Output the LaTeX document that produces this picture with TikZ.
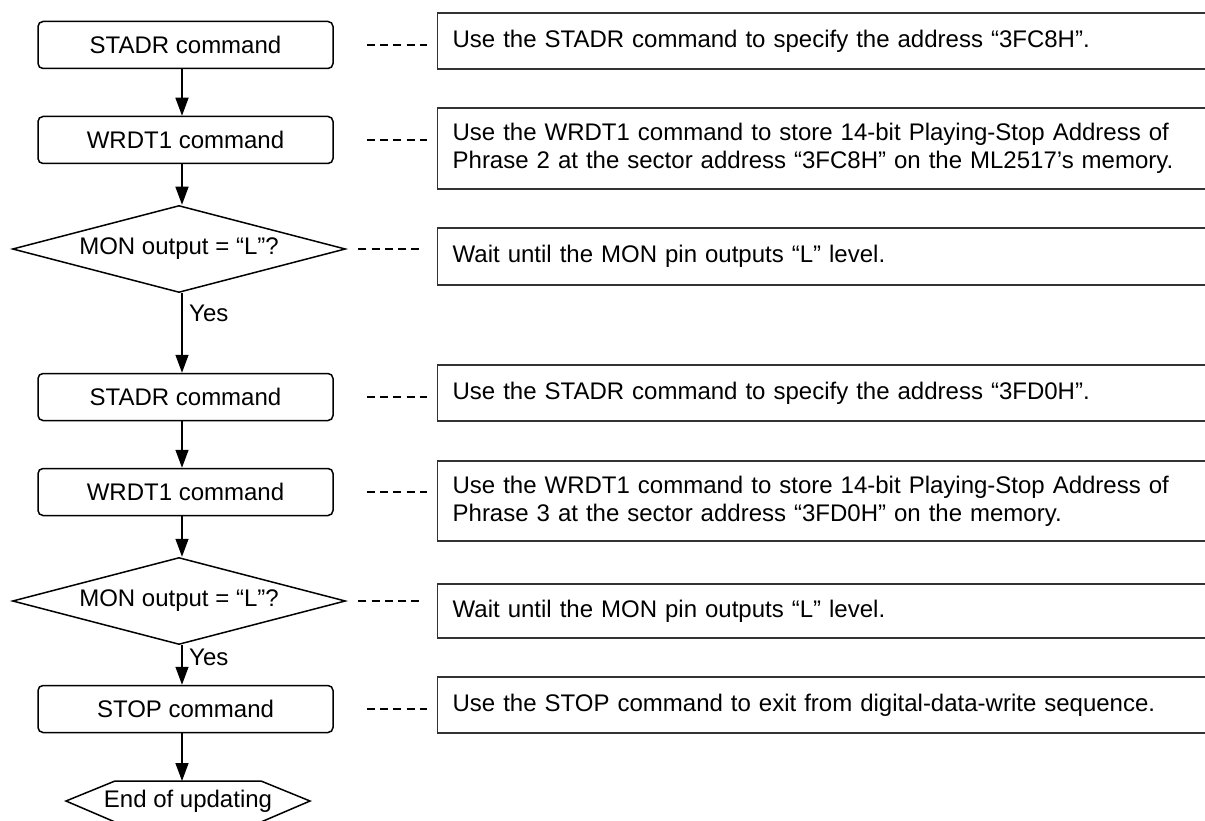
\documentclass[tikz,border=0pt]{standalone}
\usepackage{fontspec}
\setmainfont{Liberation Sans}
\usetikzlibrary{arrows.meta,shapes.geometric}
\tikzset{
  txt/.style={font=\fontsize{24pt}{28pt}\selectfont},
  cmdbox/.style={txt, draw, line width=1.5pt, rounded corners=5pt, minimum width=295pt, minimum height=47pt, inner sep=0pt},
  decide/.style={txt, draw, line width=1.5pt, diamond, aspect=3.8, minimum width=333pt, minimum height=87pt, inner sep=0pt},
  notebox/.style={txt, draw=black!80, line width=1.3pt, anchor=west, minimum width=820pt, text width=790pt, align=left, inner xsep=9pt},
  flow/.style={line width=1.5pt, -{Triangle[length=18pt,width=13pt]}},
  dsh/.style={line width=1.4pt, dash pattern=on 8pt off 5.25pt},
  yeslbl/.style={txt, anchor=west, inner sep=0pt}
}
\begin{document}
\begin{tikzpicture}[x=1pt,y=-1pt]
\clip (0,0) rectangle (1205,821);
\coordinate (ax) at (182,0);
% left column
\node[cmdbox] (s1) at (185.5,45) {STADR command};
\node[cmdbox] (w1) at (185.5,140) {WRDT1 command};
\node[decide] (d1) at (179,249) {MON output = “L”?};
\node[cmdbox] (s2) at (185.5,397) {STADR command};
\node[cmdbox] (w2) at (185.5,492) {WRDT1 command};
\node[decide] (d2) at (179,601) {MON output = “L”?};
\node[cmdbox] (st) at (185.5,709) {STOP command};
\node[txt, inner sep=0pt] (en) at (188,801) {End of updating};
\draw[line width=1.5pt] (66,801) -- (115,781) -- (261,781) -- (310,801) -- (261,822) -- (115,822) -- cycle;
\coordinate (entop) at (182,781);
% connectors
\draw[flow] (s1.south -| ax) -- (w1.north -| ax);
\draw[flow] (w1.south -| ax) -- (d1.north -| ax);
\draw[flow] (d1.south -| ax) -- (s2.north -| ax);
\node[yeslbl] at (189,313) {Yes};
\draw[flow] (s2.south -| ax) -- (w2.north -| ax);
\draw[flow] (w2.south -| ax) -- (d2.north -| ax);
\draw[flow] (d2.south -| ax) -- (st.north -| ax);
\node[yeslbl] at (189,657) {Yes};
\draw[flow] (st.south -| ax) -- (entop);
% notes
\node[notebox, minimum height=56pt] (r1) at (437,41) {Use the STADR command to specify the address “3FC8H”.};
\node[notebox, minimum height=81pt] (r2) at (437,148.5) {Use the WRDT1 command to store 14-bit Playing-Stop Address of\\Phrase 2 at the sector address “3FC8H” on the ML2517’s memory.\vphantom{g}\\[-6pt]};
\node[notebox, minimum height=57pt] (r3) at (437,256.5) {Wait until the MON pin outputs “L” level.};
\node[notebox, minimum height=56pt] (r4) at (437,393) {Use the STADR command to specify the address “3FD0H”.};
\node[notebox, minimum height=80pt] (r5) at (437,501) {Use the WRDT1 command to store 14-bit Playing-Stop Address of\\Phrase 3 at the sector address “3FD0H” on the memory.};
\node[notebox, minimum height=54pt] (r6) at (437,611) {Wait until the MON pin outputs “L” level.};
\node[notebox, minimum height=56pt] (r7) at (437,705) {Use the STOP command to exit from digital-data-write sequence.};
% dashed links
\draw[dsh, shorten <=33pt, shorten >=10pt] (s1.east) -- (r1.west |- s1.east);
\draw[dsh, shorten <=33pt, shorten >=10pt] (w1.east) -- (r2.west |- w1.east);
\draw[dsh, shorten <=12pt, shorten >=17pt] (d1.east) -- (r3.west |- d1.east);
\draw[dsh, shorten <=33pt, shorten >=10pt] (s2.east) -- (r4.west |- s2.east);
\draw[dsh, shorten <=33pt, shorten >=10pt] (w2.east) -- (r5.west |- w2.east);
\draw[dsh, shorten <=12pt, shorten >=17pt] (d2.east) -- (r6.west |- d2.east);
\draw[dsh, shorten <=33pt, shorten >=10pt] (st.east) -- (r7.west |- st.east);
\end{tikzpicture}
\end{document}
